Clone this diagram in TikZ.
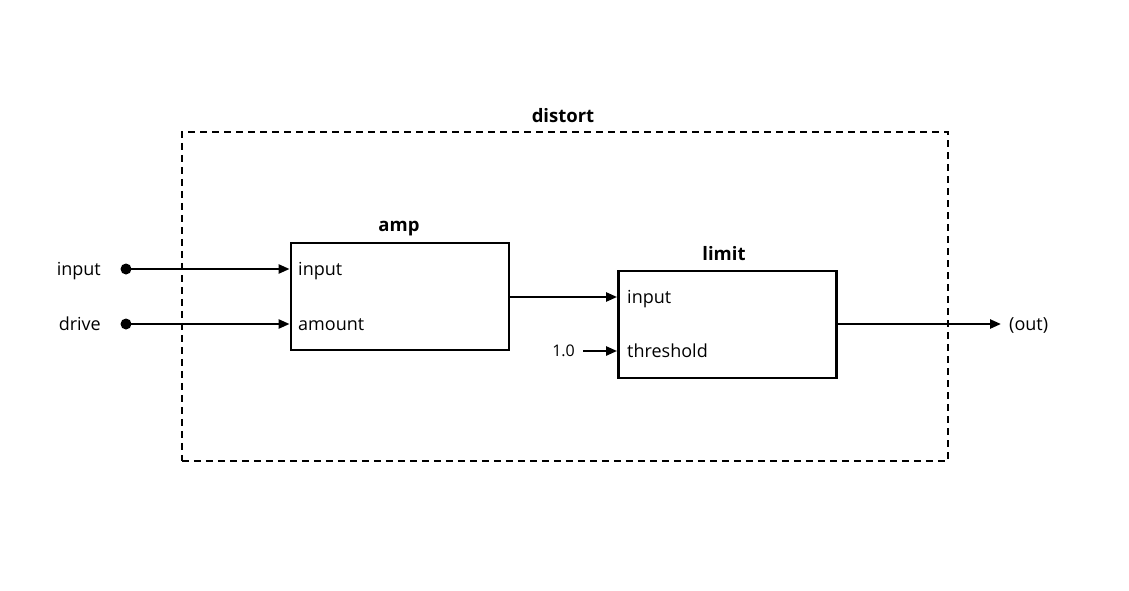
\documentclass[tikz,border=0pt]{standalone}
\usepackage{fontspec}
\setmainfont{Open Sans}
\usetikzlibrary{arrows.meta}
\begin{document}
\begin{tikzpicture}[x=1pt,y=-1pt,
  block/.style={draw, line width=2.8pt, minimum width=218pt, minimum height=107pt, inner sep=0pt},
  title/.style={font=\bfseries\fontsize{18.5}{21}\selectfont, inner sep=0pt, text height=16pt, text depth=4pt},
  lbl/.style={font=\fontsize{18}{21}\selectfont, inner sep=0pt, text height=17pt, text depth=4pt},
  port/.style={lbl, anchor=west},
  dot/.style={circle, fill, inner sep=0pt, minimum size=11pt},
  wire/.style={line width=2.4pt, -{Triangle[length=11pt,width=9pt]}},
  ]
\useasboundingbox (0,0) rectangle (1129,591);
% outer dashed group
\node[draw, line width=1.7pt, dash pattern=on 7pt off 5pt, minimum width=766pt, minimum height=329pt, anchor=north west, inner sep=0pt] (distort) at (181,131) {};
\node[title] (distorttitle) at (563,116) {distort};
% blocks
\node[block] (amp) at (400,296.5) {};
\node[title] (amptitle) at (399,225) {amp};
\node[block] (limit) at (727.5,324.5) {};
\node[title] (limittitle) at (724,254) {limit};
% ports
\node[port] (ampin) at (298,269) {input};
\node[port] (ampamount) at (298,324) {amount};
\node[port] (limitin) at (627,297) {input};
\node[port] (limitthr) at (627,351) {threshold};
% external inputs
\node[lbl, anchor=east] (inputlbl) at (101,269) {input};
\node[lbl, anchor=east] (drivelbl) at (101,324) {drive};
\node[dot] (indot) at (126,269) {};
\node[dot] (drivedot) at (126,324) {};
\node[font=\fontsize{16}{18}\selectfont, inner sep=0pt, text height=14pt, text depth=3pt, anchor=east] (thrval) at (575,351) {1.0};
\node[lbl, anchor=west] (out) at (1009,324) {(out)};
\coordinate (outend) at (1001,324);
% wires
\draw[wire] (indot.center) -- (indot -| amp.west);
\draw[wire] (drivedot.center) -- (drivedot -| amp.west);
\draw[wire] (amp.east |- limitin) -- (limitin -| limit.west);
\draw[wire] ([xshift=8pt]thrval.east) -- (limitthr -| limit.west);
\draw[wire] (limit.east |- outend) -- (outend);
\end{tikzpicture}
\end{document}
